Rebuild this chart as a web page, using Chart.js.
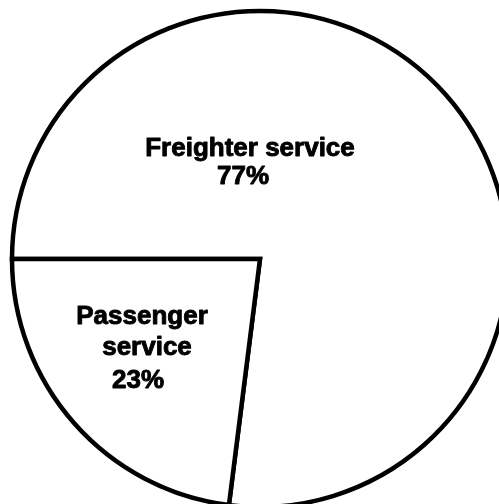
<!DOCTYPE html>
<html>
<head>
<meta charset="utf-8">
<script src="https://cdn.jsdelivr.net/npm/chart.js@4/dist/chart.umd.min.js"></script>
<style>
  html, body { margin: 0; padding: 0; background: #fff; overflow: hidden; }
  #wrap { width: 499px; height: 504px; }
</style>
</head>
<body>
<div id="wrap"><canvas id="pie" width="499" height="504"></canvas></div>
<script>
// Share of service by type
const categories = ['Freighter service', 'Passenger service'];
const shares = [77, 23];
// Label text drawn inside each slice
const sliceLabels = [
  ['Freighter service', '77%'],
  ['Passenger', 'service', '23%']
];

// Text placement for each slice, as offsets from the pie centre (px)
const labelLayout = [
  [{ dx: -10, dy: -103 }, { dx: -17, dy: -75 }],
  [{ dx: -118, dy: 65 }, { dx: -113, dy: 96 }, { dx: -122, dy: 129 }]
];

const sliceText = {
  id: 'sliceText',
  afterDatasetsDraw(chart) {
    const { ctx } = chart;
    const arcs = chart.getDatasetMeta(0).data;
    ctx.save();
    ctx.fillStyle = '#000';
    ctx.strokeStyle = '#000';
    ctx.lineWidth = 0.9;
    ctx.lineJoin = 'round';
    ctx.font = 'bold 26px "Liberation Sans", Arial, sans-serif';
    ctx.textAlign = 'center';
    ctx.textBaseline = 'alphabetic';
    arcs.forEach((arc, i) => {
      sliceLabels[i].forEach((txt, j) => {
        const p = labelLayout[i][j];
        const x = arc.x + p.dx, y = arc.y + p.dy;
        ctx.fillText(txt, x, y);
        ctx.strokeText(txt, x, y);
      });
    });
    ctx.restore();
  }
};

new Chart(document.getElementById('pie'), {
  type: 'pie',
  data: {
    labels: categories,
    datasets: [{
      data: shares,
      backgroundColor: ['#fff', '#fff'],
      borderColor: '#000',
      borderWidth: 4.5,
      borderJoinStyle: 'miter',
      borderAlign: 'center',
      clip: false
    }]
  },
  options: {
    responsive: false,
    animation: false,
    rotation: -90,
    radius: 248,
    layout: { padding: { left: 21, top: 14, right: 0, bottom: 0 } },
    plugins: {
      legend: { display: false },
      tooltip: { enabled: false }
    }
  },
  plugins: [sliceText]
});
</script>
</body>
</html>
